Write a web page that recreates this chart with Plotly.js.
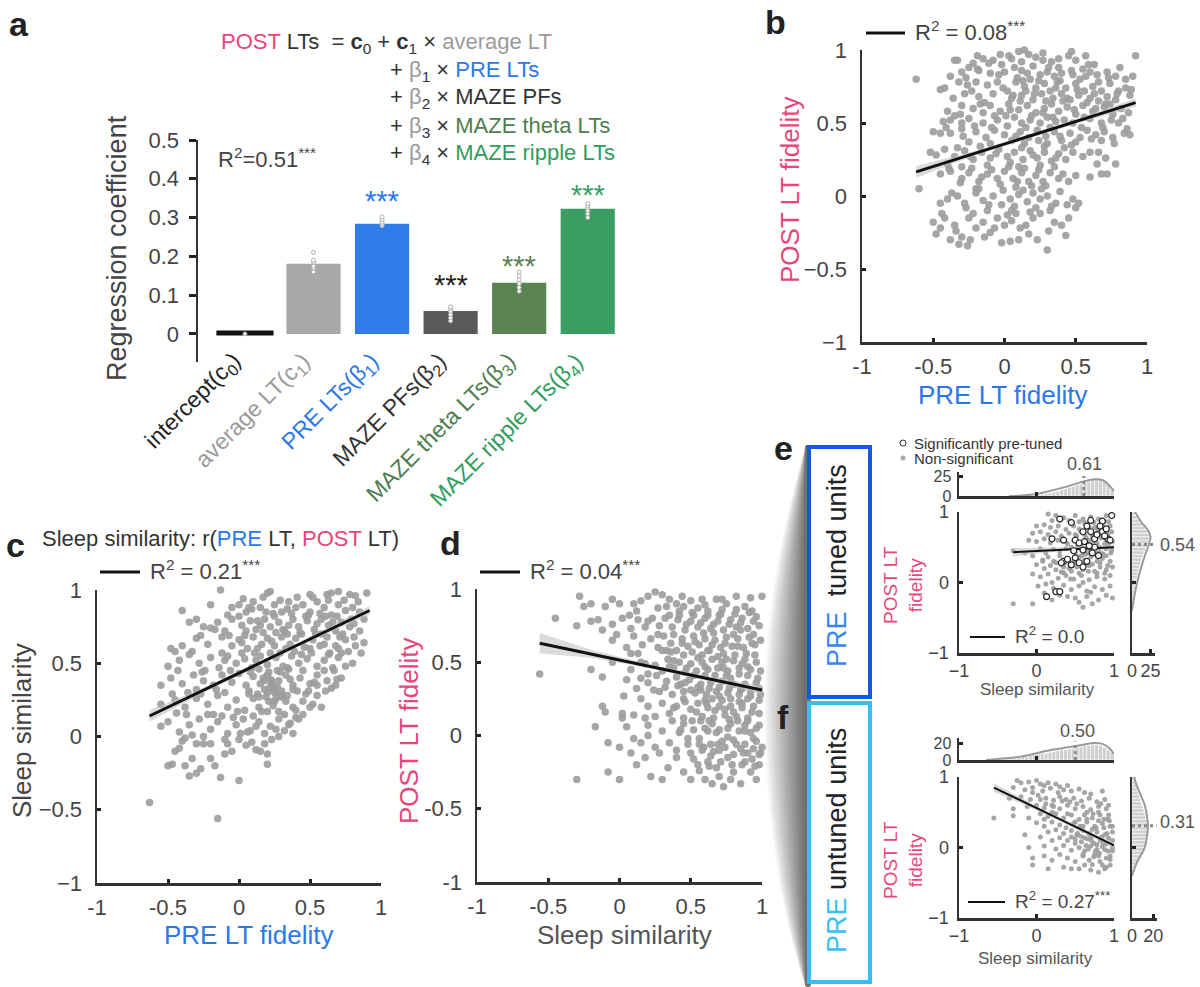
<!DOCTYPE html>
<html><head><meta charset="utf-8">
<script src="https://cdn.plot.ly/plotly-3.0.1.min.js"></script>
<style>html,body{margin:0;padding:0;background:#fff}#chart{width:1200px;height:987px}</style>
</head><body><div id="chart"></div>
<script>
// ---------------- DATA ----------------
// Panel a: regression coefficients
const coefCategories = ['intercept','average LT','PRE LTs','MAZE PFs','MAZE theta LTs','MAZE ripple LTs'];
const coefLabels = ['intercept(c<sub>0</sub>)','average LT(c<sub>1</sub>)','PRE LTs(β<sub>1</sub>)','MAZE PFs(β<sub>2</sub>)','MAZE theta LTs(β<sub>3</sub>)','MAZE ripple LTs(β<sub>4</sub>)'];
const coefValues = [0.005, 0.181, 0.284, 0.059, 0.132, 0.323];
const coefSessionDots = [[0.0],[0.16,0.17,0.175,0.185,0.19,0.21],[0.279,0.283,0.288,0.295,0.302],[0.034,0.042,0.05,0.058,0.065,0.07],[0.11,0.12,0.13,0.14,0.15,0.16],[0.30,0.31,0.318,0.325,0.33,0.336]];
const coefStars = ['','','***','***','***','***'];
const coefStarY = [0,0,0.342,0.127,0.175,0.358];

// Panel b: PRE LT fidelity vs POST LT fidelity
const bX = [-0.62,-0.35,-0.33,-0.22,-0.15,-0.08,-0.02,0.05,0.10,0.14,
 0.17,0.22,0.27,0.33,0.38,0.45,0.50,0.55,0.60,0.92,
 -0.30,-0.25,-0.18,-0.10,0.00,0.07,0.12,0.20,0.25,0.30,
 0.35,0.40,0.48,0.57,0.65,0.72,0.78,0.85,0.90,-0.38,
 -0.45,-0.42,-0.32,-0.26,-0.20,-0.12,-0.05,0.02,0.08,0.14,
 0.18,0.22,0.28,0.32,0.37,0.43,0.50,0.56,0.62,0.68,
 0.74,0.80,0.85,-0.28,-0.18,-0.08,0.05,0.12,0.20,0.26,
 0.34,0.40,0.46,0.52,0.60,0.66,0.72,0.78,0.88,0.15,
 -0.40,-0.35,-0.30,-0.22,-0.15,-0.10,-0.03,0.03,0.10,0.16,
 0.22,0.28,0.33,0.38,0.44,0.50,0.55,0.62,0.70,0.76,
 0.82,0.87,-0.43,-0.38,-0.30,-0.25,-0.05,0.07,0.18,0.30,
 0.42,0.48,0.60,0.68,0.75,0.80,0.25,0.12,-0.15,0.36,
 -0.50,-0.45,-0.38,-0.30,-0.20,-0.13,-0.07,0.00,0.05,0.11,
 0.17,0.23,0.29,0.35,0.40,0.46,0.53,0.58,0.64,0.70,
 0.76,0.84,0.88,-0.25,-0.10,0.14,0.30,0.50,0.68,0.02,
 -0.52,-0.48,-0.42,-0.35,-0.28,-0.22,-0.16,-0.10,-0.04,0.02,
 0.07,0.13,0.18,0.23,0.28,0.33,0.38,0.43,0.48,0.55,
 0.60,0.65,0.72,0.68,0.78,-0.40,-0.30,-0.12,0.10,0.25,
 -0.45,-0.38,-0.30,-0.25,-0.18,-0.12,-0.05,0.00,0.06,0.12,
 0.17,0.22,0.27,0.32,0.38,0.45,0.50,-0.60,-0.20,0.08,
 -0.45,-0.40,-0.33,-0.28,-0.20,-0.15,-0.08,-0.02,0.04,0.10,
 0.16,0.20,0.25,0.30,0.36,0.48,0.50,0.05,-0.12,0.22,
 -0.50,-0.45,-0.42,-0.35,-0.30,-0.25,-0.20,-0.15,-0.10,-0.05,
 0.00,0.05,0.10,0.15,0.20,0.25,0.30,0.35,0.40,0.45,
 -0.32,-0.26,-0.38,-0.48,-0.02,0.04,-0.14,0.08,-0.22,0.32,
 -0.27,-0.19,-0.11,-0.04,0.03,0.09,0.16,0.24,0.31,0.39,
 0.47,0.53,0.59,0.66,0.73,-0.36,-0.23,-0.14,-0.01,0.06,
 0.13,0.21,0.29,0.36,0.44,0.51,0.58,0.63,0.71,0.79,
 -0.31,-0.17,-0.07,0.04,0.11,0.19,0.27,0.34,0.41,0.49,
 0.56,0.64,0.74,0.83,-0.41,-0.29,-0.21,-0.09,0.01,0.08,
 0.15,0.24,0.32,0.39,0.47,0.54,0.61,0.69,0.77,0.86,
 -0.33,-0.24,-0.17,-0.06,0.04,0.12,0.20,0.28,0.36,0.42,
 -0.39,-0.31,-0.23,-0.16,-0.09,-0.03,0.03,0.09,0.14,0.19,
 0.24,0.29,0.35,0.41,-0.37,-0.27,-0.18,-0.11,-0.01,0.07,
 0.13,0.18,0.26,0.33,0.39,0.44,-0.44,-0.34,-0.24,-0.07,
 0.02,0.11,0.17,0.23,0.31,0.43,0.52,0.60,0.66,0.71,
 -0.19,-0.03,0.12,0.27,0.38,0.47,0.57,0.63,0.81,0.89];
const bY = [0.80,0.93,0.93,0.91,0.94,0.93,0.90,0.94,0.99,1.00,
 0.97,0.95,0.93,0.92,0.88,0.96,0.93,0.87,0.85,0.96,
 0.85,0.88,0.86,0.84,0.85,0.88,0.86,0.89,0.83,0.85,
 0.82,0.84,0.83,0.82,0.83,0.85,0.82,0.80,0.82,0.82,
 0.73,0.74,0.78,0.76,0.78,0.76,0.78,0.72,0.78,0.75,
 0.80,0.74,0.77,0.72,0.78,0.74,0.77,0.72,0.75,0.72,
 0.77,0.72,0.74,0.70,0.68,0.70,0.67,0.69,0.66,0.70,
 0.67,0.70,0.66,0.69,0.67,0.65,0.68,0.66,0.69,0.72,
 0.58,0.55,0.62,0.60,0.57,0.62,0.58,0.63,0.59,0.62,
 0.57,0.60,0.63,0.58,0.61,0.56,0.62,0.58,0.61,0.56,
 0.60,0.57,0.51,0.52,0.50,0.53,0.52,0.54,0.52,0.54,
 0.52,0.50,0.53,0.50,0.52,0.50,0.50,0.50,0.50,0.51,
 0.44,0.43,0.43,0.46,0.44,0.40,0.45,0.42,0.38,0.44,
 0.40,0.45,0.41,0.44,0.38,0.43,0.40,0.45,0.42,0.44,
 0.40,0.43,0.42,0.37,0.36,0.36,0.36,0.37,0.38,0.48,
 0.30,0.28,0.32,0.27,0.31,0.25,0.30,0.26,0.32,0.27,
 0.30,0.25,0.31,0.26,0.30,0.24,0.29,0.25,0.30,0.27,
 0.30,0.22,0.15,0.15,0.22,0.22,0.20,0.21,0.20,0.21,
 0.15,0.17,0.12,0.16,0.10,0.15,0.12,0.17,0.12,0.16,
 0.10,0.14,0.10,0.16,0.12,0.10,0.14,0.05,0.05,0.06,
 -0.05,-0.02,0.00,-0.05,0.02,-0.03,0.00,-0.06,-0.02,0.01,
 -0.04,0.02,-0.02,0.00,-0.05,-0.02,-0.08,-0.10,-0.10,-0.08,
 -0.18,-0.22,-0.15,-0.20,-0.28,-0.15,-0.22,-0.18,-0.25,-0.15,
 -0.20,-0.17,-0.30,-0.20,-0.15,-0.12,-0.37,-0.18,-0.20,-0.15,
 -0.33,-0.34,-0.30,-0.26,-0.32,-0.31,-0.28,-0.12,-0.12,-0.10,
 0.81,0.87,0.91,0.83,0.96,0.81,0.84,0.79,0.88,0.79,
 0.86,0.80,0.90,0.78,0.81,0.67,0.72,0.64,0.74,0.69,
 0.79,0.70,0.65,0.74,0.67,0.73,0.64,0.70,0.63,0.70,
 0.56,0.63,0.55,0.59,0.65,0.55,0.57,0.54,0.65,0.59,
 0.54,0.60,0.63,0.53,0.47,0.41,0.48,0.47,0.55,0.41,
 0.47,0.38,0.47,0.41,0.35,0.47,0.39,0.47,0.36,0.46,
 0.33,0.27,0.34,0.29,0.23,0.33,0.28,0.34,0.26,0.33,
 0.19,0.09,0.19,0.13,0.18,0.08,0.20,0.10,0.19,0.07,
 0.18,0.07,0.20,0.15,0.02,-0.08,0.05,-0.06,0.04,-0.07,
 0.04,-0.11,0.05,-0.07,0.03,-0.06,-0.12,-0.24,-0.30,-0.22,
 -0.13,-0.22,-0.26,-0.30,-0.24,-0.27,-0.05,0.13,0.30,0.26,
 0.96,0.97,0.92,0.98,0.94,0.99,0.96,0.90,0.88,0.73];
const bFitX = [-0.62, 0.92], bFitY = [0.165, 0.64];
const bBandX = [-0.62,-0.2,0.15,0.5,0.92], bBandLo = [0.125,0.28,0.39,0.495,0.61], bBandHi = [0.205,0.31,0.415,0.525,0.67];

// Panel c: PRE LT fidelity vs Sleep similarity
const cX = [-0.13,0.20,0.22,0.50,0.62,0.65,0.70,0.78,0.90,0.82,
 -0.40,-0.20,-0.05,0.00,0.05,0.10,0.15,0.25,0.30,0.35,
 0.40,0.45,0.50,0.55,0.60,0.65,0.70,0.75,0.80,0.85,
 -0.35,-0.30,-0.25,-0.15,-0.10,-0.05,0.02,0.08,0.12,0.18,
 0.22,0.28,0.32,0.38,0.42,0.48,0.53,0.58,0.63,0.68,
 0.72,0.78,0.85,0.88,-0.20,0.15,0.35,0.55,0.05,0.26,
 -0.40,-0.30,-0.22,-0.12,-0.05,0.00,0.06,0.10,0.16,0.20,
 0.25,0.30,0.36,0.40,0.46,0.52,0.57,0.62,0.68,0.75,
 0.82,0.88,-0.48,-0.45,0.13,0.33,0.50,0.70,0.60,0.02,
 -0.50,-0.42,-0.35,-0.28,-0.20,-0.14,-0.08,-0.02,0.04,0.09,
 0.15,0.20,0.26,0.31,0.37,0.42,0.48,0.55,0.60,0.66,
 0.70,0.75,0.80,0.22,0.35,0.45,0.60,0.67,0.12,-0.10,
 -0.55,-0.48,-0.40,-0.32,-0.25,-0.18,-0.12,-0.05,0.00,0.05,
 0.10,0.15,0.20,0.24,0.28,0.33,0.38,0.43,0.50,0.55,
 0.62,0.72,0.65,0.20,0.25,0.22,0.27,0.18,0.30,-0.30,
 -0.55,-0.45,-0.38,-0.30,-0.22,-0.15,-0.08,-0.02,0.04,0.10,
 0.14,0.19,0.24,0.28,0.33,0.38,0.45,0.52,0.58,0.40,
 -0.50,-0.42,-0.35,-0.28,-0.20,-0.15,-0.08,-0.02,0.03,0.08,
 0.14,0.18,0.22,0.28,0.32,0.38,-0.55,0.10,-0.25,0.00,
 -0.45,-0.42,-0.38,-0.33,-0.30,-0.27,-0.20,-0.17,-0.13,-0.10,
 -0.08,-0.05,0.00,0.05,0.12,0.15,0.20,0.23,-0.50,-0.47,
 -0.63,-0.15,-0.35,-0.25,0.20,-0.40,0.40,0.50,0.42,0.32,
 0.03,0.09,0.17,0.24,0.29,0.34,0.41,0.47,0.52,0.57,
 0.63,0.69,0.74,0.79,0.84,-0.08,0.00,0.07,0.13,0.19,
 0.25,0.31,0.37,0.43,0.49,0.54,0.61,0.66,0.73,0.81,
 -0.27,-0.17,-0.07,0.04,0.11,0.17,0.23,0.29,0.34,0.39,
 0.44,0.51,0.58,0.64,0.71,0.77,0.86,-0.33,-0.24,-0.12,
 0.02,0.08,0.14,0.21,0.27,0.36,0.44,0.53,0.63,0.69,
 -0.43,-0.36,-0.26,-0.16,-0.06,0.07,0.17,0.23,0.29,0.34,
 0.41,0.47,0.55,0.68,-0.47,-0.37,-0.27,-0.18,-0.10,-0.01,
 0.07,0.13,0.20,0.26,0.34,0.45,0.55,-0.44,-0.33,-0.22,
 -0.12,-0.04,0.06,0.16,0.26,0.36,-0.38,-0.30,-0.20,-0.10,
 0.01,0.09,0.18,0.28,0.35,0.12,0.26,0.38,0.49,0.61,
 0.72,0.81,0.18,0.23,0.30,0.14,0.21,0.25,0.30,0.22];
const cY = [1.00,0.98,0.99,0.97,0.97,0.98,0.99,0.97,0.98,0.96,
 0.86,0.90,0.88,0.90,0.85,0.92,0.88,0.90,0.85,0.92,
 0.88,0.90,0.85,0.92,0.88,0.83,0.90,0.86,0.88,0.85,
 0.78,0.80,0.75,0.78,0.72,0.80,0.76,0.79,0.73,0.80,
 0.75,0.78,0.72,0.80,0.75,0.79,0.73,0.80,0.76,0.72,
 0.78,0.75,0.72,0.80,0.74,0.76,0.76,0.77,0.72,0.71,
 0.62,0.67,0.63,0.68,0.62,0.66,0.60,0.68,0.63,0.67,
 0.62,0.68,0.63,0.67,0.61,0.66,0.62,0.68,0.62,0.66,
 0.62,0.64,0.60,0.58,0.60,0.60,0.60,0.60,0.63,0.64,
 0.48,0.52,0.56,0.50,0.54,0.47,0.55,0.50,0.53,0.47,
 0.55,0.49,0.54,0.48,0.55,0.50,0.53,0.48,0.52,0.47,
 0.54,0.48,0.50,0.57,0.46,0.45,0.45,0.45,0.52,0.52,
 0.35,0.40,0.36,0.42,0.38,0.35,0.42,0.37,0.43,0.35,
 0.41,0.36,0.42,0.33,0.38,0.42,0.35,0.40,0.36,0.42,
 0.38,0.40,0.33,0.30,0.30,0.34,0.34,0.32,0.31,0.32,
 0.22,0.25,0.20,0.26,0.22,0.28,0.20,0.25,0.18,0.26,
 0.20,0.27,0.21,0.17,0.24,0.20,0.24,0.22,0.20,0.13,
 0.10,0.03,0.08,0.12,0.05,0.10,0.02,0.08,0.12,0.04,
 0.10,0.02,0.07,0.12,0.04,0.02,0.07,0.14,0.00,-0.02,
 -0.10,-0.08,-0.20,-0.15,-0.25,-0.22,-0.15,-0.20,-0.28,-0.02,
 -0.05,-0.10,-0.30,-0.06,-0.09,-0.10,-0.19,-0.02,-0.20,-0.19,
 -0.45,-0.56,-0.27,-0.05,-0.12,-0.03,0.18,0.20,0.12,0.15,
 0.94,0.87,0.95,0.84,0.93,0.87,0.95,0.82,0.95,0.84,
 0.93,0.82,0.93,0.80,0.92,0.83,0.82,0.88,0.79,0.85,
 0.82,0.73,0.84,0.71,0.83,0.70,0.82,0.78,0.70,0.77,
 0.69,0.73,0.69,0.69,0.57,0.71,0.65,0.57,0.70,0.58,
 0.70,0.57,0.70,0.57,0.68,0.58,0.57,0.58,0.45,0.57,
 0.57,0.44,0.46,0.44,0.45,0.39,0.56,0.37,0.56,0.39,
 0.45,0.30,0.44,0.32,0.45,0.29,0.40,0.38,0.44,0.47,
 0.31,0.29,0.35,0.35,0.29,0.15,0.29,0.15,0.30,0.17,
 0.31,0.29,0.17,0.26,0.28,0.15,0.28,0.16,0.01,0.15,
 0.14,0.13,0.03,0.17,0.05,0.09,-0.01,-0.05,-0.05,-0.12,
 0.02,-0.04,-0.05,0.00,0.08,0.07,0.30,0.32,0.31,0.31,
 0.57,0.68,0.38,0.36,0.27,0.27,0.24,0.24,0.28,0.39];
const cFitX = [-0.63, 0.92], cFitY = [0.14, 0.86];
const cBandX = [-0.63,-0.2,0.15,0.5,0.92], cBandLo = [0.10,0.325,0.49,0.65,0.83], cBandHi = [0.18,0.355,0.515,0.68,0.89];

// Panel d: Sleep similarity vs POST LT fidelity
const dX = [-0.28,-0.25,-0.20,-0.10,-0.05,0.00,0.10,0.15,0.20,0.25,
 0.30,0.35,0.40,0.45,0.50,0.55,0.60,0.68,0.75,0.82,
 0.88,0.93,1.00,0.27,0.33,0.42,0.62,0.72,-0.45,0.12,
 -0.30,-0.20,-0.12,-0.05,0.02,0.08,0.13,0.18,0.23,0.28,
 0.32,0.37,0.41,0.46,0.50,0.55,0.60,0.64,0.69,0.73,
 0.78,0.82,0.86,0.90,0.94,0.98,0.35,0.52,0.70,0.85,
 -0.05,0.05,0.10,0.16,0.22,0.27,0.31,0.36,0.40,0.44,
 0.48,0.52,0.56,0.60,0.63,0.67,0.71,0.75,0.79,0.83,
 0.87,0.91,0.95,0.99,0.58,0.73,0.89,0.66,0.80,0.94,
 -0.56,-0.20,-0.12,-0.05,0.08,0.15,0.20,0.25,0.30,0.34,
 0.38,0.42,0.46,0.50,0.54,0.58,0.62,0.65,0.69,0.72,
 0.76,0.80,0.84,0.88,0.92,0.96,0.99,0.60,0.75,0.90,
 0.05,0.12,0.20,0.28,0.33,0.37,0.41,0.45,0.49,0.53,
 0.57,0.61,0.64,0.68,0.72,0.76,0.80,0.84,0.88,0.92,
 0.96,0.99,0.55,0.70,0.86,0.65,0.78,0.90,0.45,0.15,
 -0.10,0.02,0.10,0.20,0.30,0.35,0.40,0.45,0.50,0.55,
 0.58,0.62,0.66,0.70,0.74,0.78,0.82,0.86,0.90,0.94,
 0.98,0.25,0.60,0.72,0.84,-0.17,0.05,0.20,0.98,0.88,
 -0.08,0.00,0.10,0.20,0.25,0.30,0.35,0.42,0.48,0.52,
 0.56,0.60,0.64,0.68,0.72,0.76,0.80,0.84,0.88,0.92,
 0.96,1.00,0.45,0.65,0.78,0.85,0.94,0.70,0.40,0.15,
 -0.30,-0.08,0.00,0.08,0.12,0.18,0.22,0.28,0.34,0.40,
 0.45,0.50,0.55,0.60,0.64,0.68,0.73,0.76,0.80,0.85,
 0.88,0.92,0.96,0.50,0.70,0.90,0.58,0.30,0.98,0.62,
 0.42,0.47,0.51,0.57,0.62,0.66,0.71,0.77,0.81,0.85,
 0.91,0.96,0.38,0.44,0.53,0.59,0.65,0.74,0.83,0.93,
 0.36,0.45,0.51,0.55,0.62,0.69,0.75,0.81,0.86,0.95,
 0.40,0.47,0.52,0.60,0.67,0.73,0.78,0.84,0.90,0.97,
 0.32,0.43,0.50,0.57,0.63,0.70,0.77,0.85,0.92,0.98,
 0.38,0.46,0.54,0.61,0.67,0.74,0.80,0.86,0.93,0.98,
 0.43,0.51,0.57,0.63,0.70,0.77,0.83,0.90,0.96,0.37,
 0.48,0.56,0.62,0.69,0.76,0.82,0.88,0.94,0.99,0.52,
 0.59,0.66,0.74,0.80,0.87,0.93,0.98,0.56,0.63,0.71,
 0.79,0.86,0.95,0.20,0.27,0.33,0.08,0.15,0.24,0.03,
 -0.15,-0.02,0.07,0.13,0.18,0.30,0.38,0.46,0.72,0.82,
 0.92,0.58,0.44,0.35,0.26,0.18,0.02,-0.12,0.65,0.78];
const dY = [0.95,0.88,0.90,0.88,0.93,0.90,0.90,0.92,0.95,0.98,
 0.96,0.93,0.90,0.88,0.92,0.87,0.89,0.93,0.90,0.86,
 0.88,0.85,0.95,0.87,0.88,0.85,0.85,0.86,0.80,0.85,
 0.75,0.78,0.72,0.76,0.80,0.73,0.79,0.74,0.80,0.75,
 0.80,0.74,0.79,0.72,0.78,0.74,0.80,0.73,0.78,0.72,
 0.79,0.74,0.80,0.73,0.78,0.75,0.82,0.82,0.82,0.72,
 0.65,0.60,0.68,0.62,0.66,0.60,0.68,0.63,0.58,0.66,
 0.61,0.68,0.62,0.66,0.58,0.65,0.60,0.67,0.61,0.66,
 0.60,0.67,0.62,0.65,0.55,0.56,0.56,0.70,0.69,0.69,
 0.42,0.45,0.40,0.50,0.45,0.50,0.42,0.48,0.44,0.52,
 0.46,0.50,0.43,0.49,0.44,0.50,0.45,0.52,0.46,0.50,
 0.44,0.51,0.46,0.52,0.45,0.50,0.44,0.41,0.41,0.41,
 0.38,0.32,0.36,0.30,0.37,0.28,0.34,0.30,0.38,0.29,
 0.35,0.28,0.36,0.30,0.37,0.29,0.35,0.28,0.35,0.30,
 0.36,0.28,0.33,0.33,0.32,0.25,0.25,0.25,0.25,0.25,
 0.16,0.15,0.14,0.20,0.22,0.15,0.20,0.12,0.18,0.22,
 0.13,0.19,0.12,0.20,0.14,0.20,0.13,0.19,0.12,0.20,
 0.15,0.13,0.24,0.24,0.23,0.06,0.06,0.07,0.07,0.07,
 -0.05,-0.08,-0.02,0.00,-0.08,0.03,-0.05,0.02,-0.06,0.04,
 -0.02,0.05,-0.06,0.02,-0.04,0.05,-0.03,0.03,-0.06,0.02,
 -0.04,-0.08,0.08,0.08,0.08,-0.09,-0.09,-0.10,-0.10,-0.05,
 -0.30,-0.25,-0.30,-0.12,-0.20,-0.15,-0.28,-0.12,-0.22,-0.15,
 -0.25,-0.12,-0.20,-0.30,-0.14,-0.22,-0.35,-0.15,-0.25,-0.33,
 -0.18,-0.25,-0.30,-0.30,-0.28,-0.12,-0.10,-0.30,-0.20,-0.18,
 0.82,0.76,0.84,0.77,0.82,0.76,0.83,0.76,0.83,0.77,
 0.84,0.81,0.69,0.63,0.64,0.70,0.62,0.63,0.61,0.63,
 0.57,0.55,0.57,0.53,0.58,0.54,0.52,0.55,0.49,0.55,
 0.40,0.46,0.41,0.47,0.41,0.46,0.39,0.42,0.47,0.39,
 0.33,0.35,0.31,0.31,0.32,0.27,0.32,0.31,0.27,0.32,
 0.19,0.23,0.16,0.22,0.17,0.18,0.16,0.22,0.16,0.24,
 0.04,0.10,0.10,0.10,0.04,0.11,0.10,0.10,0.05,0.10,
 -0.02,-0.06,0.03,-0.06,-0.01,-0.06,0.03,-0.02,-0.12,-0.16,
 -0.08,-0.11,-0.08,-0.13,-0.12,-0.16,-0.13,-0.24,-0.21,-0.18,
 -0.20,-0.20,-0.21,0.78,0.69,0.58,0.56,0.39,0.31,0.27,
 0.79,0.69,0.82,0.56,0.49,0.58,0.51,0.36,0.93,0.95,
 0.94,0.93,0.95,0.47,0.41,0.12,0.12,0.20,-0.33,-0.30];
const dFitX = [-0.56, 1.0], dFitY = [0.63, 0.31];
const dBandX = [-0.56,-0.2,0.2,0.6,1.0], dBandLo = [0.56,0.53,0.46,0.375,0.28], dBandHi = [0.70,0.585,0.49,0.41,0.34];

// Panel e: PRE tuned units
const eGrayX = [0.15,0.25,0.35,0.50,0.60,0.70,0.80,0.90,0.20,0.42,
 0.00,0.10,0.18,0.28,0.38,0.48,0.55,0.65,0.75,0.85,
 0.95,-0.05,0.05,0.15,0.25,0.32,0.42,0.52,0.62,0.72,
 0.82,0.92,0.97,-0.10,0.00,0.10,0.18,0.28,0.40,0.48,
 0.58,0.68,0.78,0.88,0.98,-0.30,-0.15,0.05,0.12,0.22,
 0.30,0.38,0.50,0.58,0.65,0.72,0.80,0.90,0.96,-0.05,
 0.08,0.15,0.22,0.30,0.40,0.48,0.55,0.62,0.70,0.78,
 0.85,0.95,0.00,0.10,0.18,0.25,0.35,0.45,0.52,0.60,
 0.68,0.75,0.82,0.90,0.98,-0.05,0.05,0.15,0.28,0.38,
 0.48,0.58,0.68,0.78,0.88,0.95,0.02,0.12,0.22,0.35,
 0.45,0.55,0.65,0.75,0.85,0.95,-0.30,-0.05,0.20,0.40,
 0.55,0.65,0.80,0.90,0.60,0.30,0.72,0.98,0.10,0.50,
 0.55,0.62,0.68,0.74,0.79,0.84,0.88,0.93,0.50,0.57,
 0.64,0.71,0.77,0.83,0.87,0.92,0.45,0.53,0.67,0.73,
 0.81,0.86,0.93,0.58,0.63,0.69,0.76,0.84,0.90,0.97,
 0.35,0.42,0.25,0.33,0.43,0.52,0.62,0.72,0.82,0.92,
 0.08,0.20,0.32,0.44,0.55,0.67,0.78,0.88,0.60,0.70];
const eGrayY = [0.97,0.95,0.92,0.95,0.90,0.93,0.90,0.95,0.88,0.88,
 0.80,0.82,0.78,0.80,0.75,0.80,0.76,0.82,0.78,0.83,
 0.80,0.70,0.72,0.68,0.72,0.66,0.70,0.66,0.68,0.65,
 0.70,0.68,0.72,0.60,0.58,0.62,0.56,0.60,0.55,0.60,
 0.55,0.60,0.56,0.55,0.58,0.45,0.42,0.48,0.42,0.47,
 0.44,0.48,0.42,0.48,0.42,0.46,0.44,0.48,0.42,0.38,
 0.32,0.36,0.30,0.38,0.34,0.30,0.36,0.32,0.36,0.30,
 0.34,0.30,0.25,0.20,0.24,0.18,0.22,0.16,0.22,0.18,
 0.24,0.16,0.22,0.18,0.22,0.12,0.08,0.12,0.06,0.10,
 0.05,0.10,0.04,0.08,0.05,0.10,-0.05,-0.02,-0.08,-0.04,
 -0.10,-0.05,-0.12,-0.06,-0.10,-0.05,-0.30,-0.30,-0.25,-0.20,
 -0.28,-0.20,-0.25,-0.18,-0.35,-0.18,-0.30,-0.22,-0.15,-0.22,
 0.86,0.85,0.78,0.85,0.75,0.77,0.87,0.86,0.68,0.73,
 0.64,0.69,0.66,0.63,0.63,0.58,0.50,0.52,0.55,0.55,
 0.50,0.40,0.52,0.38,0.40,0.44,0.40,0.41,0.38,0.46,
 0.14,0.20,0.28,0.25,0.27,0.28,0.26,0.26,0.28,0.24,
 0.30,0.00,0.15,0.05,0.13,0.16,0.13,0.13,0.00,-0.14];
const eSigX = [0.30,0.45,0.70,0.85,0.97,0.20,0.35,0.50,0.60,0.65,
 0.70,0.75,0.82,0.85,0.90,0.92,0.48,0.60,0.75,0.80,
 0.35,0.40,0.45,0.55,0.60,0.65,0.32,0.13,0.25,0.30,
 0.55,0.62,0.68,0.78,0.88,0.50,0.72,0.95];
const eSigY = [0.90,0.85,0.88,0.87,0.95,0.62,0.60,0.60,0.72,0.80,
 0.72,0.62,0.80,0.72,0.76,0.62,0.45,0.46,0.50,0.38,
 0.30,0.33,0.25,0.28,0.22,0.30,0.28,-0.20,-0.13,-0.13,
 0.56,0.58,0.52,0.68,0.66,0.35,0.42,0.60];
const eFitX = [-0.3, 1.0], eFitY = [0.43, 0.50];
const eBandX = [-0.3,0.35,1.0], eBandLo = [0.37,0.45,0.46], eBandHi = [0.49,0.50,0.54];
const eTopX = [-0.275,-0.225,-0.175,-0.125,-0.075,-0.025,0.025,0.075,0.125,0.175,0.225,0.275,0.325,0.375,0.425,0.475,0.525,0.575,0.625,0.675,0.725,0.775,0.825,0.875,0.925,0.975];
const eTopCounts = [0,0,1,0,1,1,2,2,3,4,5,6,8,9,11,12,14,15,17,18,20,22,21,19,14,8];
const eTopKdeX = [-0.35,-0.2,0,0.2,0.4,0.6,0.75,0.85,0.95,1.0];
const eTopKdeY = [0,0.5,2.5,7,12,18,21,20,12,6];
const eRightY = [-0.325,-0.275,-0.225,-0.175,-0.125,-0.075,-0.025,0.025,0.075,0.125,0.175,0.225,0.275,0.325,0.375,0.425,0.475,0.525,0.575,0.625,0.675,0.725,0.775,0.825,0.875,0.925,0.975];
const eRightCounts = [1,1,2,3,3,4,5,6,7,8,9,10,12,13,15,16,18,20,22,24,23,21,18,14,10,7,4];
const eRightKdeY = [-0.4,-0.2,0,0.2,0.4,0.55,0.65,0.75,0.85,0.95,1.0];
const eRightKdeX = [0,3,7,12,18,23,25,21,13,7,4];
const eTopMedian = 0.61, eRightMedian = 0.54;

// Panel f: PRE untuned units
const fX = [-0.25,-0.20,-0.10,0.00,0.05,0.10,0.15,0.25,0.30,0.40,
 -0.30,-0.15,-0.05,0.08,0.18,0.28,0.35,0.45,0.55,0.62,
 0.70,0.85,-0.35,-0.20,-0.08,0.02,0.12,0.22,0.30,0.38,
 0.48,0.58,0.68,0.78,0.88,-0.30,-0.12,0.00,0.10,0.20,
 0.30,0.40,0.50,0.60,0.70,0.80,0.90,-0.55,-0.30,-0.10,
 0.05,0.15,0.25,0.35,0.45,0.55,0.62,0.72,0.82,0.92,
 0.00,0.10,0.20,0.30,0.38,0.48,0.56,0.65,0.75,0.85,
 0.95,0.15,0.25,0.35,0.45,0.52,0.60,0.68,0.78,0.88,
 0.98,-0.15,0.05,0.20,0.30,0.40,0.50,0.58,0.66,0.74,
 0.82,0.90,0.98,-0.10,0.10,0.25,0.35,0.45,0.55,0.62,
 0.70,0.78,0.85,0.92,0.98,-0.05,0.10,0.20,0.30,0.40,
 0.50,0.60,0.68,0.75,0.82,0.90,0.95,0.35,0.55,0.70,
 0.80,0.90,-0.05,0.15,0.62,0.85,0.45,0.98,0.76,0.60,
 0.50,0.58,0.65,0.72,0.80,0.87,0.94,0.45,0.53,0.62,
 0.70,0.77,0.84,0.91,0.98,0.50,0.57,0.64,0.71,0.78,
 0.86,0.93,0.60,0.67,0.74,0.81,0.88,0.95,0.65,0.73,
 0.80,0.87,0.93,0.72,0.80,0.88,0.95,-0.05,0.05,0.12,
 0.22,0.33,0.43,0.20,0.10,0.40,0.52,0.83,0.93,0.68];
const fY = [0.95,0.92,0.93,0.95,0.90,0.88,0.92,0.90,0.86,0.88,
 0.85,0.82,0.85,0.80,0.84,0.78,0.82,0.80,0.83,0.78,
 0.76,0.80,0.70,0.72,0.68,0.74,0.70,0.67,0.72,0.68,
 0.70,0.66,0.70,0.65,0.68,0.55,0.58,0.60,0.56,0.60,
 0.55,0.60,0.55,0.58,0.54,0.58,0.55,0.42,0.45,0.42,
 0.48,0.44,0.48,0.42,0.46,0.40,0.46,0.42,0.46,0.40,
 0.35,0.30,0.36,0.32,0.28,0.34,0.30,0.36,0.30,0.34,
 0.30,0.22,0.25,0.20,0.24,0.18,0.24,0.20,0.22,0.18,
 0.22,0.18,0.15,0.10,0.14,0.10,0.12,0.08,0.12,0.06,
 0.10,0.05,0.10,0.00,0.02,-0.02,0.03,-0.04,0.00,-0.05,
 0.02,-0.03,0.01,-0.05,0.00,-0.15,-0.12,-0.18,-0.10,-0.15,
 -0.20,-0.12,-0.18,-0.10,-0.20,-0.15,-0.12,-0.28,-0.30,-0.32,
 -0.35,-0.28,-0.25,-0.30,-0.25,-0.25,-0.30,-0.05,-0.05,0.30,
 0.36,0.27,0.40,0.26,0.38,0.28,0.38,0.15,0.20,0.14,
 0.14,0.28,0.15,0.20,0.30,0.06,0.16,0.03,0.10,0.04,
 0.06,0.13,-0.10,-0.02,-0.13,-0.08,-0.03,-0.17,0.50,0.48,
 0.50,0.40,0.46,-0.24,-0.12,-0.30,-0.25,0.78,0.68,0.62,
 0.58,0.66,0.65,0.50,0.40,0.48,0.62,0.62,0.60,0.20];
const fFitX = [-0.55, 1.0], fFitY = [0.85, 0.03];
const fBandX = [-0.55,0.2,1.0], fBandLo = [0.79,0.43,-0.01], fBandHi = [0.91,0.475,0.07];
const fTopX = [-0.525,-0.475,-0.425,-0.375,-0.325,-0.275,-0.225,-0.175,-0.125,-0.075,-0.025,0.025,0.075,0.125,0.175,0.225,0.275,0.325,0.375,0.425,0.475,0.525,0.575,0.625,0.675,0.725,0.775,0.825,0.875,0.925,0.975];
const fTopCounts = [1,0,1,1,2,2,3,4,4,5,6,7,8,8,9,10,11,12,12,13,14,15,16,17,17,18,18,17,15,12,9];
const fTopKdeX = [-0.65,-0.4,-0.2,0,0.2,0.4,0.6,0.75,0.85,0.95,1.0];
const fTopKdeY = [0,2,4,8,12,15,18,20,19,13,7];
const fRightY = [-0.325,-0.275,-0.225,-0.175,-0.125,-0.075,-0.025,0.025,0.075,0.125,0.175,0.225,0.275,0.325,0.375,0.425,0.475,0.525,0.575,0.625,0.675,0.725,0.775,0.825,0.875,0.925,0.975];
const fRightCounts = [2,3,5,7,9,11,12,13,14,13,14,15,16,15,14,13,12,11,10,9,8,7,6,5,4,3,2];
const fRightKdeY = [-0.4,-0.2,0,0.15,0.3,0.45,0.6,0.75,0.9,1.0];
const fRightKdeX = [0,5,12,14,15,14,12,8,4,2];
const fTopMedian = 0.50, fRightMedian = 0.31;

// ---------------- STYLE ----------------
const W = 1200, H = 987;
const FONT = 'Liberation Sans, Arial, Helvetica, sans-serif';
const PINK = '#e8467a', BLUE = '#2a78ea', LBLUE = '#36bff2', DBLUE = '#1558df';
const DGREEN = '#4e7d4e', GREEN = '#2f9d5c', TXT = '#444';
const barColors = ['#1a1a1a','#a8a8a8','#2f7be8','#5a5a5a','#5a8352','#3a9e63'];
const labelColors = ['#222','#9a9a9a',BLUE,'#333',DGREEN,GREEN];
const starColors = ['#222','#222',BLUE,'#222','#5a8352','#3a9e63'];

const domX = (a,b) => [a/W, b/W];
const domY = (top,bot) => [1-bot/H, 1-top/H];
const px = x => x/W, py = y => 1-y/H;

function ax(o){
  return Object.assign({showgrid:false, zeroline:false, showline:true, linecolor:'#333', linewidth:2.5,
    ticks:'inside', ticklen:4, tickwidth:3, tickcolor:'#222', fixedrange:true,
    tickfont:{family:FONT, size:22, color:TXT}}, o);
}
const tv5 = [-1,-0.5,0,0.5,1];
const tt5 = ['-1','-0.5','0','0.5','1'];
const tt5m = ['\u22121','\u22120.5','0','0.5','1'];

const traces = [];
// Panel a
traces.push({type:'bar', x:coefCategories.map((c,i)=>i), y:coefValues, width:0.79,
  marker:{color:barColors, line:{color:['#111','#a8a8a8','#2f7be8','#5a5a5a','#5a8352','#3a9e63'], width:[3,0,0,0,0,0]}},
  xaxis:'x', yaxis:'y', hoverinfo:'skip'});
const dotX = [], dotY = [];
coefSessionDots.forEach((arr,i)=>arr.forEach(v=>{dotX.push(i); dotY.push(v);}));
traces.push({type:'scatter', mode:'markers', x:dotX, y:dotY, xaxis:'x', yaxis:'y',
  marker:{size:4, color:'#fff', line:{color:'#b0b0b0', width:1}}, hoverinfo:'skip'});

function scatterSet(xs, ys, fitX, fitY, bandX, lo, hi, axX, axY, msize, lw){
  traces.push({type:'scatter', mode:'markers', x:xs, y:ys, xaxis:axX, yaxis:axY, cliponaxis:false,
    marker:{size:msize, color:'#9c9c9c', opacity:0.9}, hoverinfo:'skip'});
  traces.push({type:'scatter', mode:'lines', x:bandX.concat(bandX.slice().reverse()), y:hi.concat(lo.slice().reverse()),
    fill:'toself', fillcolor:'rgba(190,190,190,0.55)', line:{width:0}, xaxis:axX, yaxis:axY, hoverinfo:'skip'});
  traces.push({type:'scatter', mode:'lines', x:fitX, y:fitY, line:{color:'#111', width:lw}, xaxis:axX, yaxis:axY, hoverinfo:'skip'});
}
scatterSet(bX,bY,bFitX,bFitY,bBandX,bBandLo,bBandHi,'x2','y2',7.5,3);
scatterSet(cX,cY,cFitX,cFitY,cBandX,cBandLo,cBandHi,'x3','y3',7.5,3);
scatterSet(dX,dY,dFitX,dFitY,dBandX,dBandLo,dBandHi,'x4','y4',7.5,3);
scatterSet(eGrayX,eGrayY,eFitX,eFitY,eBandX,eBandLo,eBandHi,'x5','y5',5,2);
traces.push({type:'scatter', mode:'markers', x:eSigX, y:eSigY, xaxis:'x5', yaxis:'y5', cliponaxis:false,
  marker:{size:6, color:'#fff', line:{color:'#222', width:1.2}}, hoverinfo:'skip'});
scatterSet(fX,fY,fFitX,fFitY,fBandX,fBandLo,fBandHi,'x8','y8',5,2);

function margHist(cx, counts, kx, ky, med, medLen, axX, axY, horiz){
  const bar = {type:'bar', xaxis:axX, yaxis:axY, width:0.05, marker:{color:'#cfcfcf', line:{color:'#fff', width:0.6}}, hoverinfo:'skip'};
  if (horiz){ bar.orientation='h'; bar.y=cx; bar.x=counts; } else { bar.x=cx; bar.y=counts; }
  traces.push(bar);
  traces.push({type:'scatter', mode:'lines', x:kx, y:ky, xaxis:axX, yaxis:axY, line:{color:'#9a9a9a', width:2, shape:'spline'}, hoverinfo:'skip'});
  const ml = horiz ? {x:[0,medLen], y:[med,med]} : {x:[med,med], y:[0,medLen]};
  traces.push(Object.assign({type:'scatter', mode:'lines', xaxis:axX, yaxis:axY, line:{color:'#8a8a8a', width:3, dash:'dot'}, hoverinfo:'skip'}, ml));
}
margHist(eTopX, eTopCounts, eTopKdeX, eTopKdeY, eTopMedian, 25, 'x6','y6', false);
margHist(eRightY, eRightCounts, eRightKdeX, eRightKdeY, eRightMedian, 30, 'x7','y7', true);
margHist(fTopX, fTopCounts, fTopKdeX, fTopKdeY, fTopMedian, 22, 'x9','y9', false);
margHist(fRightY, fRightCounts, fRightKdeX, fRightKdeY, fRightMedian, 23, 'x10','y10', true);

// ---------------- LAYOUT ----------------
const small = {family:FONT, size:18, color:TXT};
const tiny = {family:FONT, size:16, color:TXT};
const layout = {
  width:W, height:H, margin:{l:0,r:0,t:0,b:0}, paper_bgcolor:'#fff', plot_bgcolor:'rgba(0,0,0,0)',
  showlegend:false, font:{family:FONT, color:TXT}, barmode:'overlay',
  xaxis: {domain:domX(198,622), anchor:'y', range:[-0.685,5.5], visible:false, fixedrange:true},
  yaxis: ax({domain:domY(140,362), anchor:'x', range:[-0.0724,0.5], tickvals:[0,0.1,0.2,0.3,0.4,0.5],
    ticktext:['0','0.1','0.2','0.3','0.4','0.5'], ticks:'outside', ticklen:7, ticklabelstandoff:5}),
  xaxis2: ax({domain:domX(862,1147), anchor:'y2', range:[-1,1], tickvals:tv5, ticktext:tt5, ticklabelstandoff:3}),
  yaxis2: ax({domain:domY(50,342), anchor:'x2', range:[-1,1], tickvals:tv5, ticktext:tt5m, ticklabelstandoff:8}),
  xaxis3: ax({domain:domX(97,381), anchor:'y3', range:[-1,1], tickvals:tv5, ticktext:tt5, ticklabelstandoff:3}),
  yaxis3: ax({domain:domY(590,883), anchor:'x3', range:[-1,1], tickvals:tv5, ticktext:tt5m, ticklabelstandoff:8}),
  xaxis4: ax({domain:domX(477,762), anchor:'y4', range:[-1,1], tickvals:tv5, ticktext:tt5, ticklabelstandoff:3}),
  yaxis4: ax({domain:domY(589,882), anchor:'x4', range:[-1,1], tickvals:tv5, ticktext:tt5, ticklabelstandoff:8}),
  xaxis5: ax({domain:domX(959,1114), anchor:'y5', range:[-1,1], tickvals:[-1,0,1], tickfont:small, ticklabelstandoff:0}),
  yaxis5: ax({domain:domY(512,653), anchor:'x5', range:[-1,1], tickvals:[-1,0,1], tickfont:small, ticklabelstandoff:4}),
  xaxis6: ax({domain:domX(959,1114), anchor:'y6', range:[-1,1], tickvals:[-1,0,1], showticklabels:false}),
  yaxis6: ax({domain:domY(472,496), anchor:'x6', range:[0,30], tickvals:[0,25], tickfont:tiny, ticklabelstandoff:2}),
  xaxis7: ax({domain:domX(1132,1155), anchor:'y7', range:[0,31], tickvals:[0,25], tickfont:small, ticklabelstandoff:0}),
  yaxis7: ax({domain:domY(512,653), anchor:'x7', range:[-1,1], tickvals:[-1,0,1], showticklabels:false}),
  xaxis8: ax({domain:domX(959,1114), anchor:'y8', range:[-1,1], tickvals:[-1,0,1], tickfont:small, ticklabelstandoff:0}),
  yaxis8: ax({domain:domY(777,918), anchor:'x8', range:[-1,1], tickvals:[-1,0,1], tickfont:small, ticklabelstandoff:4}),
  xaxis9: ax({domain:domX(959,1114), anchor:'y9', range:[-1,1], tickvals:[-1,0,1], showticklabels:false}),
  yaxis9: ax({domain:domY(738,760), anchor:'x9', range:[0,26], tickvals:[0,20], tickfont:tiny, ticklabelstandoff:2}),
  xaxis10: ax({domain:domX(1132,1157), anchor:'y10', range:[0,23.5], tickvals:[0,20], tickfont:small, ticklabelstandoff:0}),
  yaxis10: ax({domain:domY(777,918), anchor:'x10', range:[-1,1], tickvals:[-1,0,1], showticklabels:false}),
  annotations:[], shapes:[]
};

function A(text, x, y, o){
  o = o || {};
  const font = Object.assign({family:FONT, size:22, color:'#333'}, o.font || {});
  return Object.assign({text:text, x:px(x), y:py(y), xref:'paper', yref:'paper', showarrow:false,
    xanchor:'center', yanchor:'middle'}, o, {font:font});
}
const ann = layout.annotations;
// panel letters
[['a',19,24],['b',776,22],['c',15,545],['d',450,543],['e',783,448],['f',783,717]].forEach(l=>
  ann.push(A('<b>'+l[0]+'</b>', l[1], l[2], {font:{size:34, color:'#222'}})));

// equation
const sp = s => '<span style="color:'+s[1]+'">'+s[0]+'</span>';
ann.push(A(sp(['POST',PINK])+' LTs  = <b>c</b><sub>0</sub> + <b>c</b><sub>1</sub> × '+sp(['average LT','#9a9a9a']), 219, 43, {xanchor:'left'}));
const eqTerms = [['PRE LTs',BLUE],['MAZE PFs','#333'],['MAZE theta LTs',DGREEN],['MAZE ripple LTs',GREEN]];
const eqY = [71, 98, 127, 154];
eqTerms.forEach((t,i)=>ann.push(A('+ '+sp(['β','#999'])+'<sub>'+(i+1)+'</sub> × '+sp(t), 388, eqY[i], {xanchor:'left'})));
ann.push(A('R<sup>2</sup>=0.51<sup>***</sup>', 216, 158, {xanchor:'left', font:{color:TXT}}));
ann.push(A('Regression coefficient', 117, 248, {textangle:-90, font:{size:27, color:TXT}}));
coefLabels.forEach((lab,i)=>ann.push({text:lab, x:i+0.08, y:py(345), xref:'x', yref:'paper', showarrow:false,
  xanchor:'right', yanchor:'top', textangle:-45, font:{family:FONT, size:23, color:labelColors[i]}}));
coefStars.forEach((s,i)=>{ if(s) ann.push({text:s, x:i, y:coefStarY[i], xref:'x', yref:'y', showarrow:false,
  xanchor:'center', yanchor:'middle', font:{family:FONT, size:29, color:starColors[i]}}); });

// legends with R2
function r2(text, x0, x1, y, size, lw){
  layout.shapes.push({type:'line', xref:'paper', yref:'paper', x0:px(x0), x1:px(x1), y0:py(y), y1:py(y), line:{color:'#111', width:lw}});
  ann.push(A(text, x1+8, y-2, {xanchor:'left', font:{size:size, color:TXT}}));
}
r2('R<sup>2</sup> = 0.08<sup>***</sup>', 866, 905, 33, 22, 3);
r2('R<sup>2</sup> = 0.21<sup>***</sup>', 100, 140, 572, 22, 3);
r2('R<sup>2</sup> = 0.04<sup>***</sup>', 480, 520, 572, 22, 3);
r2('R<sup>2</sup> = 0.0', 970, 1005, 637, 19, 2);
r2('R<sup>2</sup> = 0.27<sup>***</sup>', 968, 1005, 902, 19, 2);

// axis titles
ann.push(A('PRE LT fidelity', 1003, 395, {font:{size:26, color:BLUE}}));
ann.push(A('POST LT fidelity', 790, 190, {textangle:-90, font:{size:26, color:PINK}}));
ann.push(A('Sleep similarity: r('+sp(['PRE',BLUE])+' LT, '+sp(['POST',PINK])+' LT)', 40, 538, {xanchor:'left', font:{size:22, color:'#333'}}));
ann.push(A('PRE LT fidelity', 249, 935, {font:{size:26, color:BLUE}}));
ann.push(A('Sleep similarity', 22, 731, {textangle:-90, font:{size:26, color:TXT}}));
ann.push(A('Sleep similarity', 624, 935, {font:{size:26, color:'#555'}}));
ann.push(A('POST LT fidelity', 409, 731, {textangle:-90, font:{size:26, color:PINK}}));
ann.push(A('Sleep similarity', 1037, 689, {font:{size:17, color:'#555'}}));
ann.push(A('POST LT<br>fidelity', 903, 585, {textangle:-90, font:{size:19, color:PINK}}));
ann.push(A('Sleep similarity', 1035, 958, {font:{size:17, color:'#555'}}));
ann.push(A('POST LT<br>fidelity', 903, 860, {textangle:-90, font:{size:19, color:PINK}}));

// medians
ann.push(A(eTopMedian.toFixed(2), 1084, 464, {font:{size:18, color:'#555'}}));
ann.push(A(eRightMedian.toFixed(2), 1158, 545, {xanchor:'left', font:{size:18, color:'#555'}}));
ann.push(A(fTopMedian.toFixed(2), 1077, 731, {font:{size:18, color:'#555'}}));
ann.push(A(fRightMedian.toFixed(2), 1158, 822, {xanchor:'left', font:{size:18, color:'#555'}}));

// e legend
ann.push(A('Significantly pre-tuned', 912, 443, {xanchor:'left', font:{size:15, color:'#333'}}));
ann.push(A('Non-significant', 912, 458, {xanchor:'left', font:{size:15, color:'#333'}}));
layout.shapes.push({type:'circle', xref:'paper', yref:'paper', x0:px(900), x1:px(906), y0:py(440), y1:py(446), line:{color:'#333', width:1}, fillcolor:'#fff'});
layout.shapes.push({type:'circle', xref:'paper', yref:'paper', x0:px(900.5), x1:px(905.5), y0:py(455.5), y1:py(460.5), line:{width:0}, fillcolor:'#aaa'});

// gradient wedge
const wedge = [[806,446],[785,520],[766,600],[765,700],[764,810],[782,920],[806,986]];
const NL = 18;
for (let k=0; k<NL; k++){
  const t = k/NL;
  const g = Math.round(246 - (246-112)*Math.pow(k/(NL-1), 0.9));
  const p = wedge.map(q=>[q[0]+(806-q[0])*t, q[1]]).map(q=>px(q[0]).toFixed(5)+','+py(q[1]).toFixed(5));
  const path = 'M'+p[0]+' C'+p[1]+' '+p[2]+' '+p[3]+' C'+p[4]+' '+p[5]+' '+p[6]+' L'+px(810).toFixed(5)+','+py(986).toFixed(5)+' L'+px(810).toFixed(5)+','+py(446).toFixed(5)+' Z';
  const c = 'rgb('+g+','+g+','+g+')';
  layout.shapes.push({type:'path', xref:'paper', yref:'paper', path:path, fillcolor:c, line:{width:0.6, color:c}, layer:'below'});
}
// boxes
layout.shapes.push({type:'rect', xref:'paper', yref:'paper', x0:px(809), x1:px(870), y0:py(447), y1:py(697), line:{color:DBLUE, width:4}, fillcolor:'#fff'});
layout.shapes.push({type:'rect', xref:'paper', yref:'paper', x0:px(809), x1:px(870), y0:py(703), y1:py(982), line:{color:LBLUE, width:4}, fillcolor:'#fff'});
ann.push(A(sp(['PRE','#3a86f0'])+'  tuned units', 837, 566, {textangle:-90, font:{size:27, color:'#222'}}));
ann.push(A(sp(['PRE',LBLUE])+' untuned units', 837, 841, {textangle:-90, font:{size:27, color:'#222'}}));

Plotly.newPlot('chart', traces, layout, {staticPlot:true, displayModeBar:false});
</script></body></html>
